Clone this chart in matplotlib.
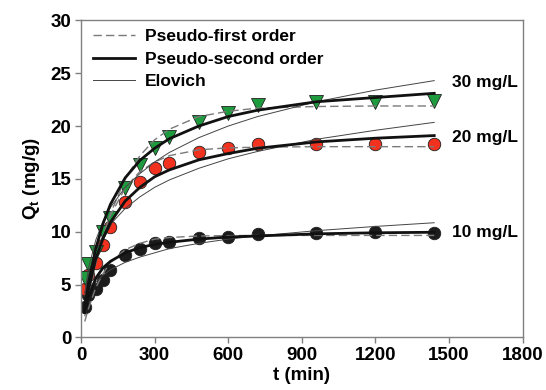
import matplotlib
matplotlib.use("Agg")
import matplotlib.pyplot as plt

plt.rcParams['font.family'] = ['Liberation Sans', 'DejaVu Sans']
plt.rcParams['font.weight'] = 'bold'
plt.rcParams['mathtext.fontset'] = 'custom'
plt.rcParams['mathtext.rm'] = 'Liberation Sans:bold'
plt.rcParams['mathtext.it'] = 'Liberation Sans:bold'
plt.rcParams['mathtext.default'] = 'rm'

# contact time (min)
t = [15, 30, 60, 90, 120, 180, 240, 300, 360, 480, 600, 720, 960, 1200, 1440]

# experimental uptake (mg/g)
q10 = [2.9, 4.0, 4.6, 5.4, 6.4, 7.8, 8.4, 8.9, 9.0, 9.4, 9.5, 9.75, 9.85, 9.95, 9.9]
q20 = [4.6, 5.9, 7.0, 8.7, 10.4, 12.8, 14.7, 16.0, 16.5, 17.5, 17.9, 18.3, 18.3, 18.3, 18.3]
q30 = [5.6, 6.9, 8.1, 10.0, 11.3, 14.1, 16.3, 17.9, 19.0, 20.4, 21.2, 22.0, 22.3, 22.3, 22.4]

# model values at the same times
pfo10 = [1.5, 2.7, 4.7, 6.05, 7.1, 8.3, 8.9, 9.3, 9.45, 9.6, 9.63, 9.65, 9.65, 9.65, 9.65]
pso10 = [2.35, 3.8, 5.6, 6.6, 7.2, 8.0, 8.5, 8.8, 9.0, 9.3, 9.5, 9.6, 9.8, 9.9, 9.95]
elo10 = [3.0, 4.1, 5.2, 5.9, 6.4, 7.1, 7.6, 8.0, 8.4, 8.9, 9.3, 9.6, 10.1, 10.5, 10.85]

pfo20 = [2.2, 4.05, 7.2, 9.65, 11.55, 14.15, 15.7, 16.6, 17.2, 17.75, 17.94, 18.0, 18.05, 18.05, 18.05]
pso20 = [2.55, 4.5, 7.4, 9.4, 10.9, 12.9, 14.2, 15.2, 15.85, 16.8, 17.4, 17.9, 18.5, 18.85, 19.1]
elo20 = [3.9, 5.9, 8.2, 9.6, 10.7, 12.2, 13.3, 14.2, 14.9, 16.0, 16.9, 17.6, 18.75, 19.6, 20.35]

pfo30 = [2.0, 3.8, 7.0, 9.6, 11.7, 15.0, 17.2, 18.7, 19.7, 20.9, 21.4, 21.7, 21.85, 21.9, 21.9]
pso30 = [2.8, 5.1, 8.4, 10.8, 12.6, 15.1, 16.75, 17.9, 18.8, 20.0, 20.9, 21.5, 22.3, 22.7, 23.1]
elo30 = [4.2, 6.5, 9.2, 11.0, 12.3, 14.2, 15.5, 16.6, 17.5, 18.9, 20.0, 20.9, 22.3, 23.4, 24.3]

series = [
    ('10 mg/L', q10, pfo10, pso10, elo10, 'o', '#1c1c1c', 9.9),
    ('20 mg/L', q20, pfo20, pso20, elo20, 'o', '#f2311f', 18.9),
    ('30 mg/L', q30, pfo30, pso30, elo30, 'v', '#1e9b3e', 24.1),
]

fig = plt.figure(figsize=(5.46, 3.90), dpi=100)
ax = fig.add_axes([0.1484, 0.1349, 0.8086, 0.8128])

for i, (name, q, pfo, pso, elo, mk, col, ylab) in enumerate(series):
    ax.plot(t, q, linestyle='none', marker=mk, markersize=10 if mk == 'v' else 9,
            markerfacecolor=col, markeredgecolor='#202020', markeredgewidth=0.6, zorder=2)
    ax.plot(t, pfo, color='#7a7a7a', lw=1.0, dashes=(6, 3), zorder=3,
            label='Pseudo-first order' if i == 0 else None)
    ax.plot(t, pso, color='#111111', lw=2.0, zorder=4,
            label='Pseudo-second order' if i == 0 else None)
    ax.plot(t, elo, color='#444444', lw=0.7, zorder=3,
            label='Elovich' if i == 0 else None)
    ax.text(1512, ylab, name, fontsize=12.5, fontweight='bold', ha='left', va='center')

ax.set_xlim(0, 1800)
ax.set_ylim(0, 30)
ax.set_xticks([0, 300, 600, 900, 1200, 1500, 1800])
ax.set_yticks([0, 5, 10, 15, 20, 25, 30])
ax.set_xlabel('t (min)', fontsize=13.5, fontweight='bold', labelpad=2)
ax.set_ylabel('Q$_t$ (mg/g)', fontsize=13.5, fontweight='bold', labelpad=6)
for s in ax.spines.values():
    s.set_color('#808080')
    s.set_linewidth(1.0)
ax.tick_params(direction='out', length=4, width=1, color='#808080', labelsize=13.5, pad=3)
for lbl in ax.get_xticklabels() + ax.get_yticklabels():
    lbl.set_fontweight('bold')

ax.legend(loc='upper left', bbox_to_anchor=(0.027, 0.972), frameon=False, fontsize=12.5,
          handlelength=2.4, handletextpad=0.6, labelspacing=0.42, borderpad=0, borderaxespad=0)

fig.savefig('out.png', dpi=100)
